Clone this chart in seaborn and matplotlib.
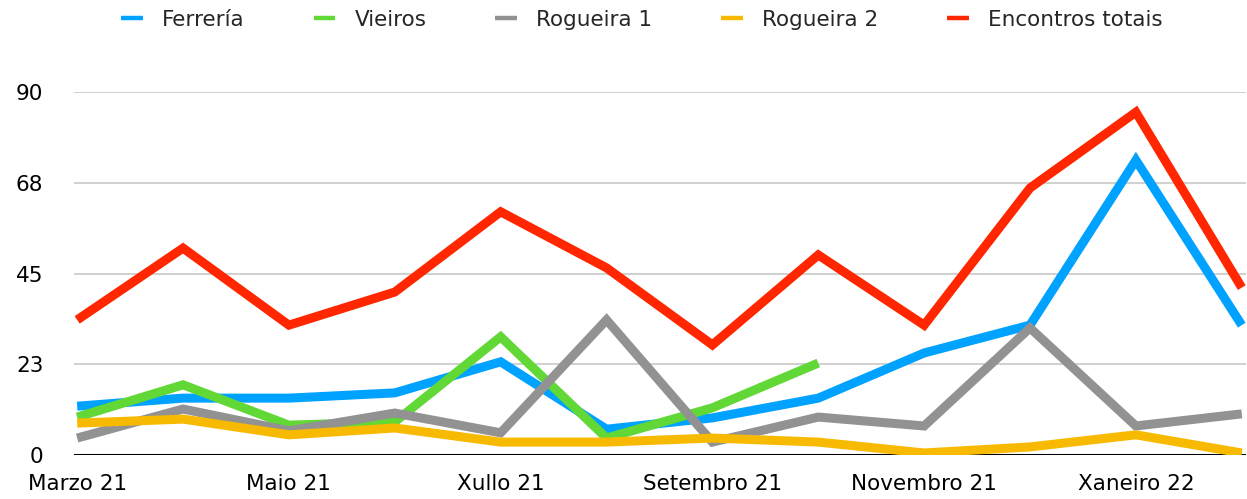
"""
Monthly encounter counts per site, with the overall total.
"""
import matplotlib.pyplot as plt
import numpy as np
import pandas as pd
import seaborn as sns
from matplotlib.lines import Line2D

months = [
    "Marzo 21", "Abril 21", "Maio 21", "Xuño 21", "Xullo 21", "Agosto 21",
    "Setembro 21", "Outubro 21", "Novembro 21", "Decembro 21", "Xaneiro 22",
    "Febreiro 22",
]
ferreria = [12.1, 14.1, 14.1, 15.4, 23.1, 6.4, 9.2, 14.1, 25.3, 32.2, 73.1, 32.2]
vieiros = [9.4, 17.4, 7.4, 8.2, 29.3, 4.2, 11.7, 22.8, np.nan, np.nan, np.nan, np.nan]
rogueira1 = [4.2, 11.4, 6.0, 10.4, 5.5, 33.5, 3.2, 9.4, 7.2, 31.5, 7.2, 10.2]
rogueira2 = [7.9, 8.9, 5.0, 6.7, 3.2, 3.2, 4.2, 3.2, 0.5, 2.0, 5.0, 0.5]
totais = [33.5, 51.3, 32.2, 40.4, 60.3, 46.4, 27.3, 49.6, 32.2, 66.2, 85.0, 41.5]

series_names = ["Ferrería", "Vieiros", "Rogueira 1", "Rogueira 2", "Encontros totais"]
colors = ["#00A2FF", "#61D836", "#929292", "#F8BA00", "#FF2600"]
yticks = [0, 22.5, 45, 67.5, 90]
ytick_labels = ["0", "23", "45", "68", "90"]

if __name__ == "__main__":
    sns.set_theme(style="white")
    plt.rcParams["font.family"] = ["DejaVu Sans"]

    dataf = pd.DataFrame(
        {
            "mes": np.tile(np.arange(len(months)), len(series_names)),
            "serie": np.repeat(series_names, len(months)),
            "valor": ferreria + vieiros + rogueira1 + rogueira2 + totais,
        }
    ).dropna()

    W, H = 1247, 499
    fig = plt.figure(figsize=(W / 100, H / 100), dpi=100)
    ax = fig.add_axes([74 / W, (H - 455) / H, (1246 - 74) / W, (455 - 92) / H])

    ax.set_axisbelow(True)
    for y in yticks[1:]:
        ax.axhline(y, color="#c8c8c8", lw=1.2, zorder=0)

    sns.lineplot(
        data=dataf,
        x="mes",
        y="valor",
        hue="serie",
        hue_order=series_names,
        palette=colors,
        linewidth=6.5,
        legend=False,
        ax=ax,
        zorder=3,
    )
    for line in ax.lines:
        line.set_solid_joinstyle("miter")
        line.set_solid_capstyle("butt")
    ax.axhline(0, color="black", lw=2.2, zorder=2)

    ax.set_xlim(-0.03, 11.04)
    ax.set_ylim(0, 90)
    ax.set_xticks(range(0, len(months), 2))
    ax.set_xticklabels(months[::2])
    ax.set_yticks(yticks)
    ax.set_yticklabels(ytick_labels)
    ax.tick_params(axis="x", length=0, pad=14, labelsize=15.5, colors="black")
    ax.tick_params(axis="y", length=0, pad=22, labelsize=15.5, colors="black")
    ax.set_xlabel("")
    ax.set_ylabel("")
    for spine in ax.spines.values():
        spine.set_visible(False)

    handles = [
        Line2D([], [], color=c, lw=3.2, solid_capstyle="butt") for c in colors
    ]
    fig.legend(
        handles,
        series_names,
        loc="center",
        bbox_to_anchor=(642 / W, 1 - 20 / H),
        ncol=5,
        frameon=False,
        fontsize=15.5,
        handlelength=1.0,
        handletextpad=0.9,
        columnspacing=3.2,
    )

    fig.savefig("out.png", dpi=100)
